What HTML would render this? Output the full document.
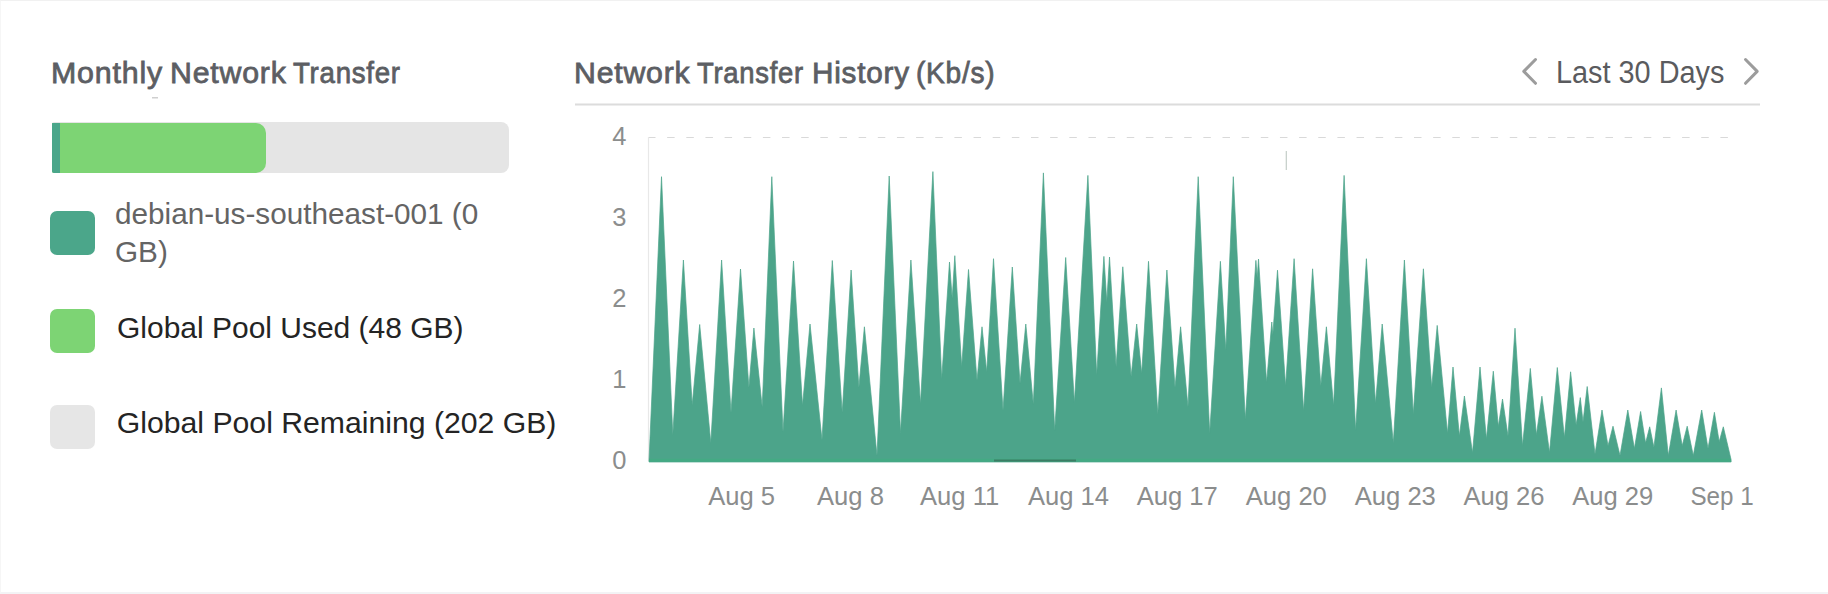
<!DOCTYPE html>
<html><head><meta charset="utf-8">
<style>
html,body{margin:0;padding:0;background:#fff;}
body{width:1828px;height:594px;position:relative;overflow:hidden;font-family:"Liberation Sans",sans-serif;}
.t{position:absolute;white-space:nowrap;line-height:1;transform-origin:0 0;}
#frame{position:absolute;left:0;top:0;width:1828px;height:594px;box-sizing:border-box;border-top:1px solid #f1f1f1;border-left:1px solid #f6f6f6;border-bottom:2px solid #f3f3f5;}
#bar{position:absolute;left:52px;top:122px;width:456.5px;height:50.5px;background:#e5e5e5;border-radius:2px 8px 8px 2px;overflow:hidden;}
#barg{position:absolute;left:0;top:0.5px;width:214px;height:50px;background:#7dd474;border-radius:0 10px 10px 0;}
#bart{position:absolute;left:0;top:0.5px;width:8px;height:50px;background:#4aa68a;}
.sq{position:absolute;left:50px;width:45px;height:44px;border-radius:7px;}
.yl{position:absolute;left:566.5px;width:60px;text-align:right;font-size:25.5px;color:#8b8d8d;line-height:1;}
.xl{position:absolute;width:200px;text-align:center;font-size:25.6px;color:#8b8d8d;line-height:1;letter-spacing:0px;}
svg{position:absolute;left:0;top:0;}
</style></head><body>
<div id="frame"></div>
<div class="t" id="w0" style="left:51.22px;top:57.61px;font-size:30.1px;color:#5c5e63;font-weight:normal;transform:scaleX(1.0086);-webkit-text-stroke:0.8px #5c5e63;letter-spacing:0.8px;">Monthly</div><div class="t" id="w1" style="left:170.22px;top:57.61px;font-size:30.1px;color:#5c5e63;font-weight:normal;transform:scaleX(1.0056);-webkit-text-stroke:0.8px #5c5e63;letter-spacing:0.8px;">Network</div><div class="t" id="w2" style="left:293.24px;top:57.61px;font-size:30.1px;color:#5c5e63;font-weight:normal;transform:scaleX(0.9186);-webkit-text-stroke:0.8px #5c5e63;letter-spacing:0.8px;">Transfer</div><div class="t" id="w3" style="left:574.02px;top:57.51px;font-size:30.1px;color:#5c5e63;font-weight:normal;transform:scaleX(1.0047);-webkit-text-stroke:0.8px #5c5e63;letter-spacing:0.8px;">Network</div><div class="t" id="w4" style="left:697.35px;top:57.51px;font-size:30.1px;color:#5c5e63;font-weight:normal;transform:scaleX(0.9109);-webkit-text-stroke:0.8px #5c5e63;letter-spacing:0.8px;">Transfer</div><div class="t" id="w5" style="left:811.56px;top:57.51px;font-size:30.1px;color:#5c5e63;font-weight:normal;transform:scaleX(0.9863);-webkit-text-stroke:0.8px #5c5e63;letter-spacing:0.8px;">History</div><div class="t" id="w6" style="left:915.93px;top:57.51px;font-size:30.1px;color:#5c5e63;font-weight:normal;transform:scaleX(0.9331);-webkit-text-stroke:0.8px #5c5e63;letter-spacing:0.8px;">(Kb/s)</div>

<div class="t" id="nav" style="left:1556.33px;top:57.29px;font-size:30.6px;color:#5a5b5e;font-weight:normal;transform:scaleX(0.943);">Last 30 Days</div>
<div id="bar"><div id="barg"></div><div id="bart"></div></div>
<div class="sq" style="top:211px;background:#4ba68a"></div>
<div class="t" id="l1" style="left:114.95px;top:194.9px;font-size:30.2px;color:#646464;font-weight:normal;transform:scaleX(0.984);line-height:38px;">debian-us-southeast-001 (0<br>GB)</div>
<div class="sq" style="top:309px;background:#7dd474"></div>
<div class="t" id="l2" style="left:116.8px;top:313.1px;font-size:30.2px;color:#242424;font-weight:normal;transform:scaleX(0.993);">Global Pool Used (48 GB)</div>
<div class="sq" style="top:405px;background:#e6e6e6"></div>
<div class="t" id="l3" style="left:116.8px;top:407.7px;font-size:30.2px;color:#242424;font-weight:normal;transform:scaleX(1.0);">Global Pool Remaining (202 GB)</div>
<div class="yl" style="top:124.0px">4</div><div class="yl" style="top:205.0px">3</div><div class="yl" style="top:286.0px">2</div><div class="yl" style="top:367.0px">1</div><div class="yl" style="top:448.0px">0</div>
<div class="xl" style="left:641.6px;top:483.9px">Aug 5</div><div class="xl" style="left:750.5px;top:483.9px">Aug 8</div><div class="xl" style="left:859.6px;top:483.9px">Aug 11</div><div class="xl" style="left:968.5px;top:483.9px">Aug 14</div><div class="xl" style="left:1077.2px;top:483.9px">Aug 17</div><div class="xl" style="left:1186.3px;top:483.9px">Aug 20</div><div class="xl" style="left:1295.3px;top:483.9px">Aug 23</div><div class="xl" style="left:1404px;top:483.9px">Aug 26</div><div class="xl" style="left:1512.7px;top:483.9px">Aug 29</div><div class="xl" style="left:1621.7px;top:483.9px;transform:scaleX(0.945)">Sep 1</div>
<svg width="1828" height="594" viewBox="0 0 1828 594">
<line x1="575" y1="104.5" x2="1760" y2="104.5" stroke="#dcdcdc" stroke-width="2"/>
<polyline points="1535.5,59.5 1523.8,71.4 1535.5,83.3" fill="none" stroke="#9c9c9c" stroke-width="3" stroke-linecap="round" stroke-linejoin="round"/>
<polyline points="1745.5,59.5 1757.2,71.4 1745.5,83.3" fill="none" stroke="#9c9c9c" stroke-width="3" stroke-linecap="round" stroke-linejoin="round"/>
<line x1="648" y1="137.5" x2="1730" y2="137.5" stroke="#d9d9d9" stroke-width="1" stroke-dasharray="7.5 11.65"/>
<line x1="648.5" y1="137" x2="648.5" y2="461" stroke="#e8e8e8" stroke-width="1.2"/>
<line x1="1286.3" y1="151" x2="1286.3" y2="170" stroke="#c3cdc8" stroke-width="1.2"/>
<path d="M649 461 L661.5 176.7 L672.8 434.7 L683.4 260 L692.2 405 L699.7 324.5 L710.8 443 L721.6 260 L731 412.5 L740.5 269 L748.9 387.5 L753.9 328 L762.2 407 L771.8 176.7 L783 432 L793.5 261 L802.5 405.5 L810 324 L822 440 L832.3 260.5 L842.2 412.5 L851.1 270 L858.9 387.5 L864.4 326.8 L877 455.6 L889.2 176 L900.5 433 L910.9 260 L920.5 404 L932.9 171.6 L941.7 379 L949.5 262 L952.2 298.5 L954.8 255.7 L961.7 366.7 L968.5 269.5 L977 380.5 L982 326.8 L986.7 372 L993.5 258.7 L1003 410.5 L1012.3 267 L1020 383.3 L1025.8 324 L1033.3 404.2 L1043.4 172.9 L1054.7 430.6 L1065.7 257.5 L1074.4 402.8 L1087.9 175.4 L1096.7 375 L1103.9 256.4 L1106.8 301.8 L1109.5 257 L1116.1 366.7 L1122.8 266.8 L1131.1 376.4 L1136.7 324 L1141.7 373.6 L1148.5 261.3 L1157.8 413.9 L1166.9 270 L1175 387.5 L1180.6 326.8 L1188 407 L1198.2 176.7 L1209.7 433.3 L1220.4 261.3 L1225.8 350 L1233.3 176.7 L1245.3 419.4 L1255.9 260.4 L1257.2 278 L1258.5 259 L1266.6 382.4 L1271.8 322 L1272.8 335 L1277.5 270.2 L1285.6 386 L1294.1 258.7 L1303.6 411 L1312.6 268.8 L1320.8 386 L1326.4 326.8 L1333.6 405.6 L1344.1 175.4 L1355.6 430.6 L1366.4 258.7 L1375.5 403.4 L1382.2 324 L1393.3 443 L1404.4 260 L1413.3 413.9 L1423.4 268.8 L1431.7 387.5 L1437.2 325.4 L1447.5 433.3 L1453 367 L1459.4 436 L1464.4 396 L1472.5 452.8 L1480 367 L1486.4 438.9 L1493.3 371.2 L1498.3 426.4 L1502.5 399 L1508 436 L1515 328.2 L1522.5 445.8 L1530.3 368.4 L1536.4 434.7 L1541.9 396.2 L1549.5 452.5 L1557.3 367.5 L1564.4 437.5 L1570.6 371.8 L1576.1 425 L1580.3 397.6 L1583 422 L1587.2 386.5 L1595 454 L1602 410 L1608 445.8 L1613 426.2 L1620 455.6 L1627.8 410 L1634.4 448.6 L1640.6 411.5 L1645.6 443 L1649.7 426.8 L1653.9 447.2 L1661.4 387.9 L1668.3 455.6 L1676.1 410 L1682.2 445.8 L1687.2 426.2 L1693.3 455.6 L1701.7 410 L1708 448.6 L1714.4 412.3 L1719.2 441.7 L1723.3 426.8 L1731.1 459.7 L1731.1 462 L649 462 Z" fill="#4ca48a" stroke="#4ca48a" stroke-width="0.7" stroke-linejoin="round"/>
<line x1="649" y1="460.3" x2="1731" y2="460.3" stroke="#44aa84" stroke-width="3"/>
<line x1="994" y1="460.5" x2="1076" y2="460.5" stroke="#3b7d64" stroke-width="2"/>
<rect x="152" y="97" width="6" height="1.5" fill="#cfcfcf"/>
</svg>
</body></html>
